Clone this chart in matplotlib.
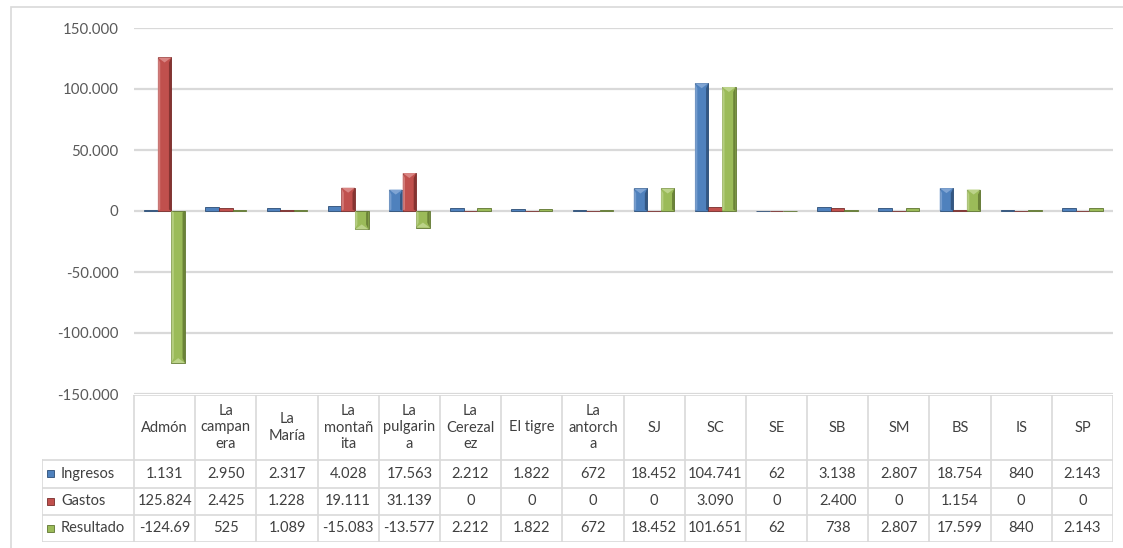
import matplotlib
matplotlib.use("Agg")
import matplotlib.pyplot as plt
from matplotlib.patches import Polygon, Rectangle
from matplotlib.lines import Line2D

# ---------------- data ----------------
categories = ["Admón", "La\ncampan\nera", "La\nMaría", "La\nmontañ\nita", "La\npulgarin\na",
              "La\nCerezal\nez", "El tigre", "La\nantorch\na", "SJ", "SC", "SE", "SB",
              "SM", "BS", "IS", "SP"]
ingresos = [1131, 2950, 2317, 4028, 17563, 2212, 1822, 672, 18452, 104741, 62, 3138,
            2807, 18754, 840, 2143]
gastos = [125824, 2425, 1228, 19111, 31139, 0, 0, 0, 0, 3090, 0, 2400, 0, 1154, 0, 0]
resultado = [-124693, 525, 1089, -15083, -13577, 2212, 1822, 672, 18452, 101651, 62, 738,
             2807, 17599, 840, 2143]
series_names = ["Ingresos", "Gastos", "Resultado"]
y_ticks = [-150000, -100000, -50000, 0, 50000, 100000, 150000]

colors = ["#4F81BD", "#C0504D", "#9BBB59"]
dark = ["#2C4D75", "#772C2A", "#5F7530"]
light = ["#7FA4D3", "#D98583", "#BCD38A"]

W, H = 1123, 548
plt.rcParams['font.family'] = ['Lato', 'DejaVu Sans']
fig = plt.figure(figsize=(W / 100, H / 100), dpi=100)
fig.patch.set_facecolor("white")

def fx(px):
    return px / W

def fy(py):
    return 1 - py / H

# outer chart border
fig.add_artist(Rectangle((fx(11), fy(560)), fx(1130 - 11), (560 - 7) / H,
                         transform=fig.transFigure, fill=False,
                         edgecolor="#D9D9D9", linewidth=1.2))

# ---------------- chart ----------------
left, right, top, bottom = 134, 1113, 28, 394
ax = fig.add_axes([fx(left), fy(bottom), fx(right - left), (bottom - top) / H])
n = len(categories)
ax.set_xlim(-0.5, n - 0.5)
ax.set_ylim(-150000, 150000)
ax.set_yticks(y_ticks)
ax.set_yticklabels([f"{v:,.0f}".replace(",", ".") for v in y_ticks])
ax.tick_params(axis="y", length=0, pad=11, labelsize=10.8, labelcolor="#595959")
ax.tick_params(axis="x", length=0, labelbottom=False)
for s in ax.spines.values():
    s.set_visible(False)
ax.grid(axis="y", color="#D9D9D9", linewidth=1.6)
ax.set_axisbelow(True)

bw = 1 / 4.5
px_per_unit = (bottom - top) / 300000.0
series = [ingresos, gastos, resultado]
xs = list(range(n))
for i, vals in enumerate(series):
    pos = [x + (i - 1) * bw for x in xs]
    bars = ax.bar(pos, vals, width=bw, color=colors[i], edgecolor=dark[i],
                  linewidth=0.6, zorder=3)
    for p in bars:
        h = p.get_height()
        if h == 0:
            continue
        x0 = p.get_x()
        w = p.get_width()
        sgn = 1 if h > 0 else -1
        inset = w * 0.18
        tri = 5 / px_per_unit
        if abs(h) > tri * 1.2:
            # light left strip
            ax.add_patch(Polygon([(x0, 0), (x0 + inset, sgn * tri * 0.3),
                                  (x0 + inset, h - sgn * tri), (x0, h)],
                                 closed=True, facecolor=light[i], edgecolor="none",
                                 zorder=4, alpha=0.8))
            # dark right strip
            ax.add_patch(Polygon([(x0 + w, 0), (x0 + w - inset, sgn * tri * 0.3),
                                  (x0 + w - inset, h - sgn * tri), (x0 + w, h)],
                                 closed=True, facecolor=dark[i], edgecolor="none",
                                 zorder=4, alpha=0.8))
            # top triangle
            ax.add_patch(Polygon([(x0, h), (x0 + w, h), (x0 + w / 2, h - sgn * tri)],
                                 closed=True, facecolor=light[i], edgecolor="none",
                                 zorder=4))

# ---------------- data table ----------------
t_left, t_top, t_bottom = 42, 395, 542
tax = fig.add_axes([fx(t_left), fy(t_bottom), fx(right - t_left), (t_bottom - t_top) / H])
colw = (right - left) / n
extra = (left - t_left) / colw
xl = -0.5 - extra
tax.set_xlim(xl, n - 0.5)
tax.set_ylim(t_bottom - t_top, 0)
tax.axis("off")

row_edges = [0, 65, 92.5, 120, 147]
lc = "#D9D9D9"
lw = 1.2
tax.add_line(Line2D([-0.5, n - 0.5], [row_edges[0]] * 2, color=lc, lw=lw))
for r in row_edges[1:]:
    tax.add_line(Line2D([xl, n - 0.5], [r, r], color=lc, lw=lw))
tax.add_line(Line2D([xl, xl], [row_edges[1], row_edges[-1]], color=lc, lw=lw))
for k in range(n + 1):
    tax.add_line(Line2D([k - 0.5] * 2, [row_edges[0], row_edges[-1]], color=lc, lw=lw))

tc = "#404040"
fs = 10.5
for j, lab in enumerate(categories):
    tax.text(j, (row_edges[0] + row_edges[1]) / 2, lab, ha="center", va="center",
             fontsize=fs, color=tc, linespacing=1.25)

def fmt(v):
    s = f"{v:,.0f}".replace(",", ".")
    return s[:7]

for i, vals in enumerate(series):
    yc = (row_edges[i + 1] + row_edges[i + 2]) / 2
    key_w = 7 / colw
    tax.add_patch(Rectangle((xl + 5 / colw, yc - 3.5), key_w, 7,
                            facecolor=colors[i], edgecolor=dark[i], lw=0.6))
    tax.text(xl + 19 / colw, yc, series_names[i], ha="left", va="center",
             fontsize=fs, color=tc)
    for j, v in enumerate(vals):
        tax.text(j, yc, fmt(v), ha="center", va="center", fontsize=fs, color=tc)

fig.savefig("out.png", dpi=100, facecolor="white")
